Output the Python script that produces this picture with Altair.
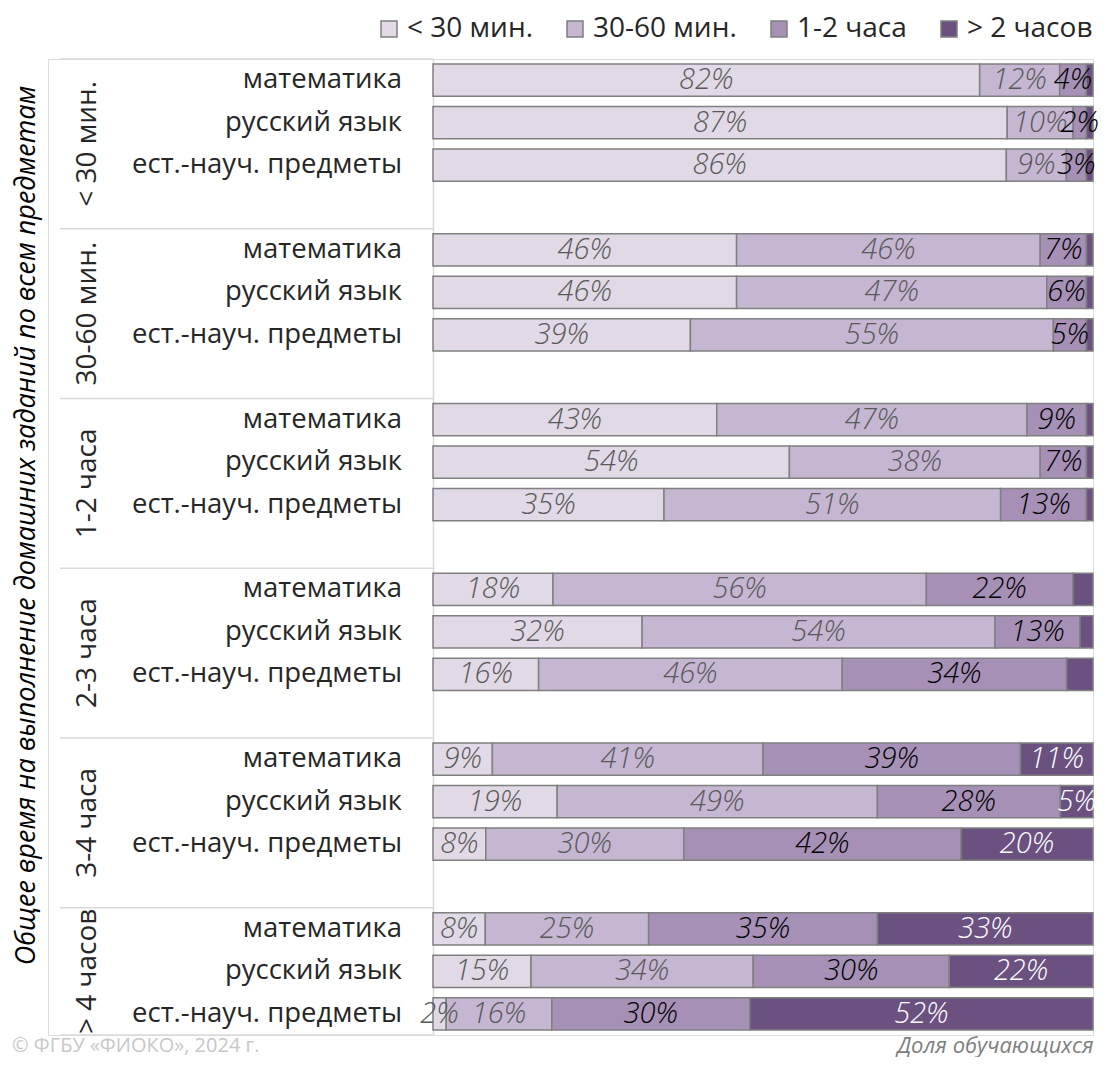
import altair as alt
import pandas as pd

groups = ["< 30 мин.", "30-60 мин.", "1-2 часа", "2-3 часа", "3-4 часа", "> 4 часов"]
subjects = ["математика", "русский язык", "ест.-науч. предметы"]
categories = ["< 30 мин.", "30-60 мин.", "1-2 часа", "> 2 часов"]

# values in group-major order: (group, subject)
lt30 = [82, 87, 86, 46, 46, 39, 43, 54, 35, 18, 32, 16, 9, 19, 8, 8, 15, 2]
m30_60 = [12, 10, 9, 46, 47, 55, 47, 38, 51, 56, 54, 46, 41, 49, 30, 25, 34, 16]
h1_2 = [4, 2, 3, 7, 6, 5, 9, 7, 13, 22, 13, 34, 39, 28, 42, 35, 30, 30]
gt2 = [1, 1, 1, 1, 1, 1, 1, 1, 1, 3, 2, 4, 11, 5, 20, 33, 22, 52]

colors = ["#e1d9e6", "#c5b7d2", "#a690b5", "#6b5180"]

title_y = "Общее время на выполнение домашних заданий по всем предметам"
copyright = "© ФГБУ «ФИОКО», 2024 г."
x_title = "Доля обучающихся"

FONT = "Open Sans"
NROWS = 23

# ---- build tables ----
series = [lt30, m30_60, h1_2, gt2]
rows = []
subj_rows = []
for g, grp in enumerate(groups):
    for s, subj in enumerate(subjects):
        r = g * 4 + s
        i = g * 3 + s
        subj_rows.append({"y": r + 0.5, "label": subj})
        for c, cat in enumerate(categories):
            rows.append({"row": r, "group": grp, "subject": subj, "cat": cat,
                         "order": c, "value": series[c][i]})
df = pd.DataFrame(rows)
df_subj = pd.DataFrame(subj_rows)

grp_rows = []
for g, grp in enumerate(groups):
    start = g * 4
    end = min(start + 4, NROWS)
    grp_rows.append({"y": (start + end) / 2, "label": grp})
df_grp = pd.DataFrame(grp_rows)
seps = [g * 4 for g in range(len(groups))] + [NROWS]
df_sep = pd.DataFrame({"y": seps})

H = 976
LW = 385
RW = 660

yscale = alt.Scale(domain=[0, NROWS], reverse=True, nice=False, zero=False, padding=0)
yaxis_left = alt.Axis(title=title_y, labels=False, ticks=False, domain=False, grid=False,
                      minExtent=0, titleFontSize=27, titleFont=FONT, titleFontStyle="italic",
                      titleFontWeight="normal", titleColor="#000000", titlePadding=8,
                      titleY=466)

left_sep = alt.Chart(df_sep).mark_rule(color="#d9d9d9", strokeWidth=1.5).encode(
    y=alt.Y("y:Q", scale=yscale, axis=yaxis_left),
    x=alt.value(12), x2=alt.value(LW),
)
left_grp = alt.Chart(df_grp).mark_text(angle=270, align="center", baseline="middle",
                                       font=FONT, fontSize=28, color="#262626").encode(
    y=alt.Y("y:Q", scale=yscale, axis=yaxis_left),
    x=alt.value(40),
    text="label:N",
)
left_subj = alt.Chart(df_subj).mark_text(align="right", baseline="middle",
                                         font=FONT, fontSize=27.5, color="#262626").encode(
    y=alt.Y("y:Q", scale=yscale, axis=yaxis_left),
    x=alt.value(354),
    text="label:N",
)
left = alt.layer(left_sep, left_grp, left_subj).properties(
    width=LW, height=H,
    title=alt.TitleParams(copyright, orient="bottom", anchor="start", frame="bounds",
                          font=FONT, fontSize=20, fontWeight="normal", color="#c8c8c8",
                          offset=0),
)

base = alt.Chart(df).transform_stack(
    stack="value", groupby=["row"], as_=["x0", "x1"], sort=[alt.SortField("order")],
    offset="normalize",
).transform_calculate(
    y0="datum.row + 0.12", y1="datum.row + 0.88", yc="datum.row + 0.5",
    xm="(datum.x0 + datum.x1) / 2",
    lbl="datum.value + '%'",
    tc="datum.cat == '1-2 часа' ? '#000000' : (datum.cat == '> 2 часов' ? '#ffffff' : '#595959')",
)

xscale = alt.Scale(domain=[0, 1], nice=False, zero=False, padding=0)
xaxis = alt.Axis(title=x_title, labels=False, ticks=False, domain=False, grid=False,
                 titleAnchor="end", titleFont=FONT, titleFontSize=22, titleFontStyle="italic",
                 titleFontWeight="normal", titleColor="#7f7f7f", titlePadding=0)
yaxis_right = alt.Axis(title=None, labels=False, ticks=False, grid=False, minExtent=0,
                       domainColor="#d9d9d9", domainWidth=1.5)

bars = base.mark_bar(stroke="#808080", strokeWidth=1.5).encode(
    x=alt.X("x0:Q", scale=xscale, axis=xaxis),
    x2="x1:Q",
    y=alt.Y("y0:Q", scale=yscale, axis=yaxis_right),
    y2="y1:Q",
    color=alt.Color("cat:N", scale=alt.Scale(domain=categories, range=colors),
                    legend=alt.Legend(title=None, orient="none", direction="horizontal",
                                      legendX=327, legendY=-44, symbolType="square",
                                      symbolSize=256, symbolStrokeColor="#7f7f7f",
                                      symbolStrokeWidth=1.5, symbolOpacity=1,
                                      labelFont=FONT, labelFontSize=28, labelColor="#262626",
                                      columnPadding=28, labelOffset=4, padding=0)),
    order=alt.Order("order:Q"),
)
labels = base.transform_filter(
    "!(datum.cat == '> 2 часов' && datum.value < 5)"
).mark_text(align="center", baseline="middle", font=FONT, fontSize=29,
            fontStyle="italic", fontWeight=300).encode(
    x=alt.X("xm:Q", scale=xscale, axis=xaxis),
    y=alt.Y("yc:Q", scale=yscale, axis=yaxis_right),
    text="lbl:N",
    color=alt.Color("tc:N", scale=None),
)
right = alt.layer(bars, labels).properties(width=RW, height=H)

chart = alt.hconcat(
    left, right, spacing=0, bounds="flush",
    padding={"top": 7, "left": 3, "right": 0, "bottom": 0},
).configure_view(stroke=None).configure(font=FONT)

chart.save("out.html", embed_options={"renderer": "svg", "actions": False})
